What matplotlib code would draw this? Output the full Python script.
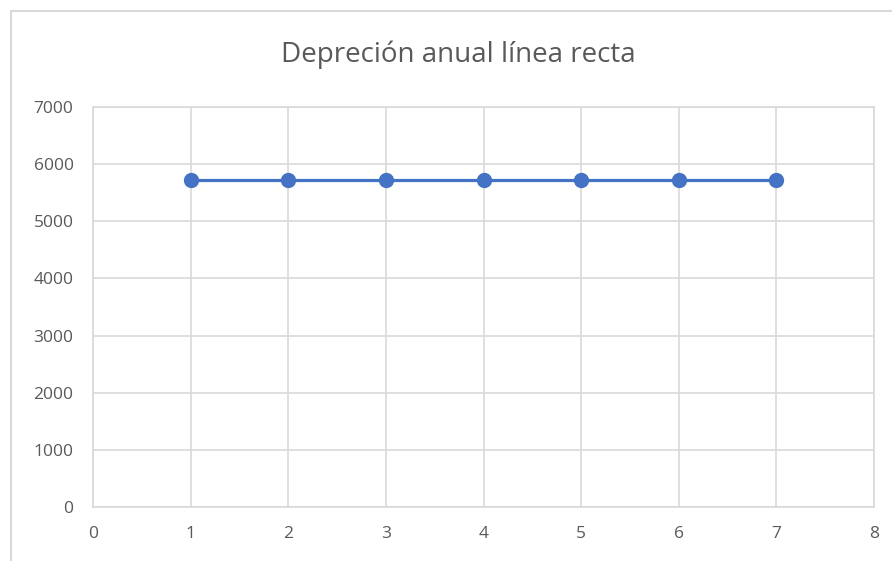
import matplotlib.pyplot as plt
from matplotlib.patches import Rectangle

# data
years = [1, 2, 3, 4, 5, 6, 7]
depreciation = [5714, 5714, 5714, 5714, 5714, 5714, 5714]
x_ticks = [0, 1, 2, 3, 4, 5, 6, 7, 8]
y_ticks = [0, 1000, 2000, 3000, 4000, 5000, 6000, 7000]

plt.rcParams['font.family'] = ['Open Sans', 'DejaVu Sans']

grey_txt = "#595959"
grey_grid = "#d9d9d9"

fig = plt.figure(figsize=(8.92, 5.61), dpi=100)
ax = fig.add_axes([93/892, 1 - 507/561, (874 - 93)/892, 400/561])

# chart frame like excel (only left/top visible)
fig.patches.append(Rectangle((11/892, -0.2), 1.3, 1.2 - 11/561, transform=fig.transFigure,
                             fill=False, edgecolor=grey_grid, linewidth=1.5))

ax.plot(years, depreciation, color="#4472C4", linewidth=2.3, marker="o", markersize=10,
        zorder=3, clip_on=False)

ax.set_xlim(0, 8)
ax.set_ylim(0, 7000)
ax.set_xticks(x_ticks)
ax.set_yticks(y_ticks)
ax.grid(True, color=grey_grid, linewidth=1.2)
ax.set_axisbelow(True)
for s in ax.spines.values():
    s.set_color(grey_grid)
    s.set_linewidth(1.2)
ax.tick_params(length=0, labelsize=12.5, labelcolor=grey_txt, pad=14)

fig.text(458/892, 1 - 55/561, "Depreción anual línea recta", ha="center", va="center",
         fontsize=20, color=grey_txt)

fig.savefig("out.png", dpi=100)
